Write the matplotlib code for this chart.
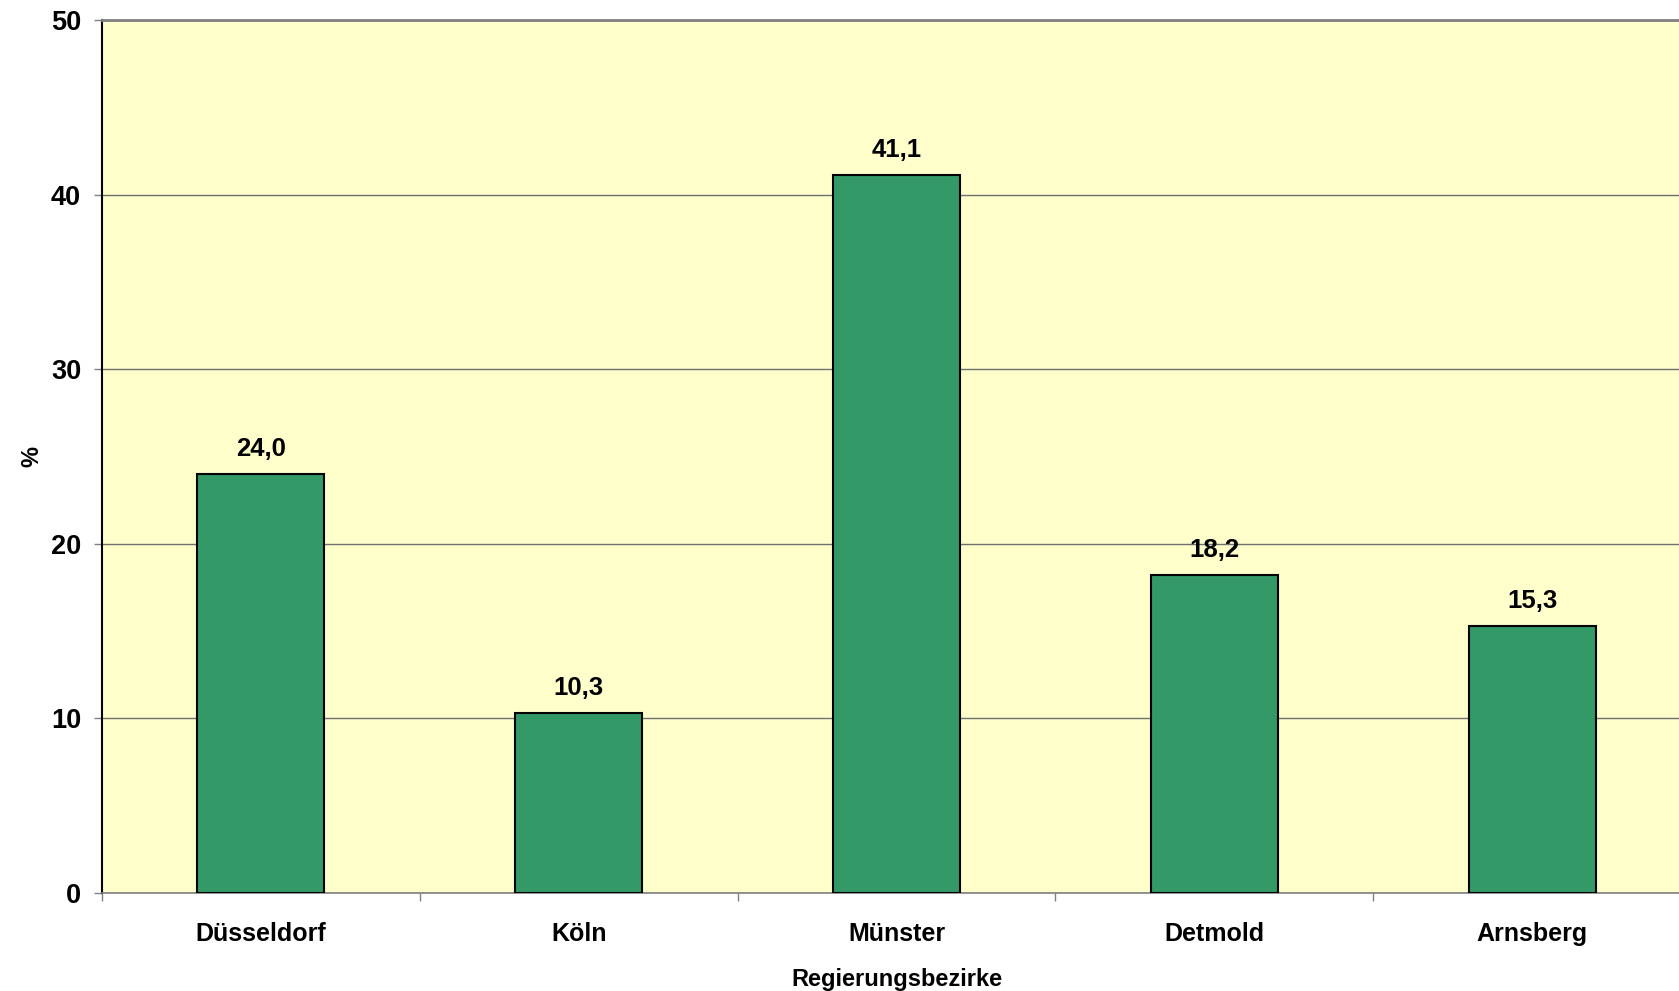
import matplotlib.pyplot as plt

# share per Regierungsbezirk, in percent
bezirke = ['Düsseldorf', 'Köln', 'Münster', 'Detmold', 'Arnsberg']
anteile = [24.0, 10.3, 41.1, 18.2, 15.3]
y_ticks = [0, 10, 20, 30, 40, 50]

plt.rcParams['font.family'] = ['Liberation Sans', 'DejaVu Sans']
plt.rcParams['font.weight'] = 'bold'

fig = plt.figure(figsize=(16.79, 9.91), dpi=100)
# plot area runs a bit past the right edge of the figure, like the original export
ax = fig.add_axes([102 / 1679, 98 / 991, 1589 / 1679, 873 / 991])
ax.set_facecolor('#FFFFCC')

pos = list(range(len(bezirke)))
bars = ax.bar(pos, anteile, width=0.4, color='#339966', edgecolor='black',
              linewidth=1.5, zorder=3)

for x, v in zip(pos, anteile):
    ax.annotate(f'{v:.1f}'.replace('.', ','), (x, v), xytext=(0, 13),
                textcoords='offset points', ha='center', va='baseline',
                fontsize=18.5, fontweight='bold')

ax.set_xlim(-0.5, len(bezirke) - 0.5)
ax.set_ylim(0, 50)
ax.set_yticks(y_ticks)
ax.set_yticklabels([str(t) for t in y_ticks], fontsize=19.5, fontweight='bold')
ax.yaxis.grid(True, color='#707070', linewidth=1.0, zorder=1)
ax.set_axisbelow(True)

# category boundaries get the tick marks, names sit in between
ax.set_xticks([p - 0.5 for p in pos] + [len(bezirke) - 0.5])
ax.set_xticklabels([])
ax.set_xticks(pos, minor=True)
ax.set_xticklabels(bezirke, minor=True, fontsize=18, fontweight='bold')
ax.tick_params(axis='x', which='major', length=6, width=1, color='#808080', direction='out')
ax.tick_params(axis='x', which='minor', length=0, pad=21)
ax.tick_params(axis='y', length=6, width=1, color='#808080', pad=9)

for side in ['top', 'bottom', 'right']:
    ax.spines[side].set_color('#808080')
ax.spines['top'].set_linewidth(2)
ax.spines['bottom'].set_linewidth(1.2)
ax.spines['left'].set_color('black')
ax.spines['left'].set_linewidth(1.5)

ax.set_ylabel('%', fontsize=17, fontweight='bold')
ax.yaxis.set_label_coords(-0.037, 0.5)
ax.set_xlabel('Regierungsbezirke', fontsize=17, fontweight='bold')
ax.xaxis.set_label_coords(0.5, -0.086)

fig.savefig('out.png', dpi=100)
